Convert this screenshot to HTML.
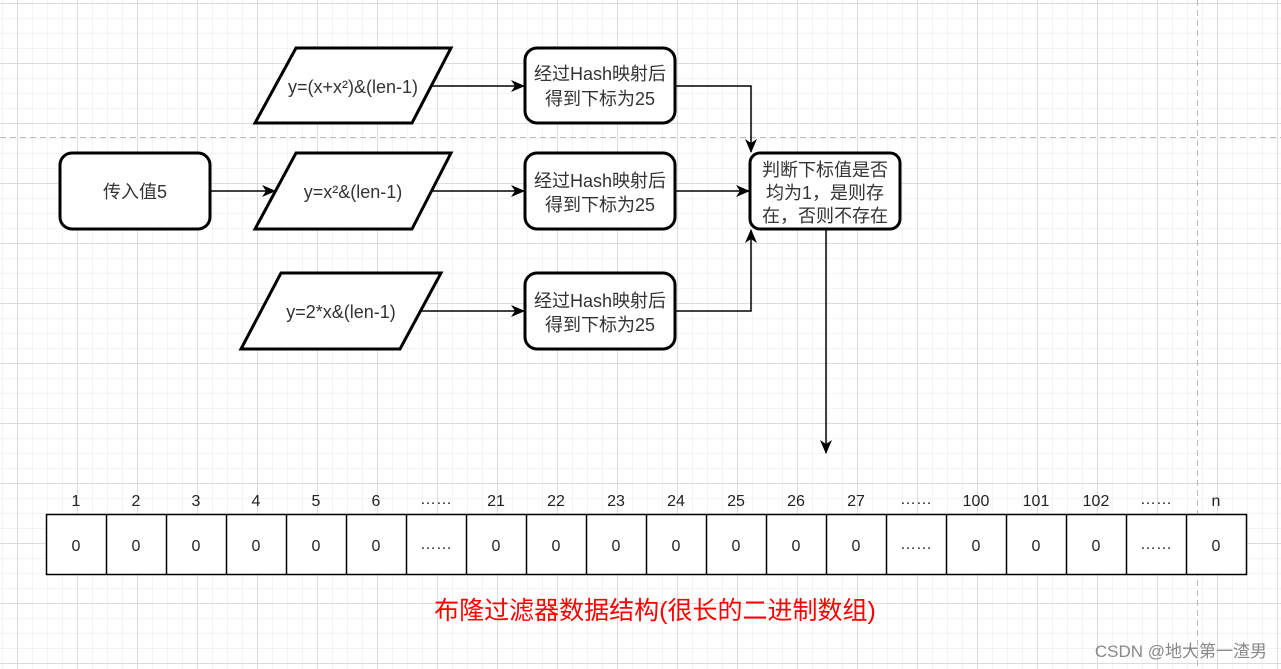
<!DOCTYPE html>
<html><head><meta charset="utf-8"><style>
html,body{margin:0;padding:0;background:#fff;}
svg{display:block;}
text{font-family:"Liberation Sans","Noto Sans CJK SC",sans-serif;}
</style></head><body>
<svg width="1281" height="669" viewBox="0 0 1281 669" xmlns="http://www.w3.org/2000/svg">
<defs>
<pattern id="minor" width="15" height="15" patternUnits="userSpaceOnUse" x="2" y="3">
<path d="M0 0.5H15M0.5 0V15" stroke="#f3f3f3" stroke-width="1" fill="none"/>
</pattern>
<pattern id="major" width="60" height="60" patternUnits="userSpaceOnUse" x="17" y="3">
<path d="M0 0.5H60M0.5 0V60" stroke="#dcdcdc" stroke-width="1" fill="none"/>
</pattern>
<marker id="ar" markerWidth="14" markerHeight="14" refX="13" refY="7" orient="auto" markerUnits="userSpaceOnUse">
<path d="M0,1 L14,7 L0,13 L4,7 Z" fill="#000"/>
</marker>
</defs>
<rect width="1281" height="669" fill="#fff"/>
<rect width="1281" height="669" fill="url(#minor)"/>
<rect width="1281" height="669" fill="url(#major)"/>
<line x1="0" y1="137.5" x2="1281" y2="137.5" stroke="#bbb" stroke-dasharray="6,4"/>
<line x1="1197.5" y1="0" x2="1197.5" y2="669" stroke="#bbb" stroke-dasharray="6,4"/>

<g stroke="#000" stroke-width="1.5" fill="none">
<line x1="430" y1="86" x2="524" y2="86" marker-end="url(#ar)"/>
<polyline points="675,86 751,86 751,152" marker-end="url(#ar)"/>
<line x1="210" y1="191" x2="275" y2="191" marker-end="url(#ar)"/>
<line x1="433" y1="191" x2="524" y2="191" marker-end="url(#ar)"/>
<line x1="675" y1="191" x2="749" y2="191" marker-end="url(#ar)"/>
<line x1="421" y1="311" x2="524" y2="311" marker-end="url(#ar)"/>
<polyline points="675,311 751,311 751,230" marker-end="url(#ar)"/>
<line x1="826" y1="229" x2="826" y2="453" marker-end="url(#ar)"/>
</g>

<g stroke="#000" stroke-width="3" fill="#fff">
<rect x="60" y="153" width="150" height="76" rx="12"/>
<polygon points="296,48 451,48 412,123 255,123"/>
<polygon points="296,153 451,153 412,229 255,229"/>
<polygon points="281,273 441,273 400,349 241,349"/>
<rect x="525" y="48" width="150" height="75" rx="12"/>
<rect x="525" y="153" width="150" height="76" rx="12"/>
<rect x="525" y="273" width="150" height="76" rx="12"/>
<rect x="750" y="153" width="150" height="76" rx="10"/>
</g>

<g font-size="18" fill="#333" text-anchor="middle">
<text x="135" y="198">传入值5</text>
<text x="353" y="93">y=(x+x²)&amp;(len-1)</text>
<text x="353" y="198">y=x²&amp;(len-1)</text>
<text x="341" y="318">y=2*x&amp;(len-1)</text>
<text x="600" y="80">经过Hash映射后</text>
<text x="600" y="105">得到下标为25</text>
<text x="600" y="187">经过Hash映射后</text>
<text x="600" y="211">得到下标为25</text>
<text x="600" y="307">经过Hash映射后</text>
<text x="600" y="331">得到下标为25</text>
<text x="825" y="176">判断下标值是否</text>
<text x="825" y="199">均为1，是则存</text>
<text x="825" y="222">在，否则不存在</text>
</g>

<g stroke="#000" stroke-width="1.5" fill="#fff">
<rect x="46.5" y="514.5" width="1200" height="60"/>
<path d="M106.5 514.5V574.5M166.5 514.5V574.5M226.5 514.5V574.5M286.5 514.5V574.5M346.5 514.5V574.5M406.5 514.5V574.5M466.5 514.5V574.5M526.5 514.5V574.5M586.5 514.5V574.5M646.5 514.5V574.5M706.5 514.5V574.5M766.5 514.5V574.5M826.5 514.5V574.5M886.5 514.5V574.5M946.5 514.5V574.5M1006.5 514.5V574.5M1066.5 514.5V574.5M1126.5 514.5V574.5M1186.5 514.5V574.5"/>
</g>
<g font-size="16" fill="#222" text-anchor="middle">
<text x="76" y="506">1</text><text x="136" y="506">2</text><text x="196" y="506">3</text><text x="256" y="506">4</text><text x="316" y="506">5</text><text x="376" y="506">6</text><text x="436" y="504">……</text><text x="496" y="506">21</text><text x="556" y="506">22</text><text x="616" y="506">23</text><text x="676" y="506">24</text><text x="736" y="506">25</text><text x="796" y="506">26</text><text x="856" y="506">27</text><text x="916" y="504">……</text><text x="976" y="506">100</text><text x="1036" y="506">101</text><text x="1096" y="506">102</text><text x="1156" y="504">……</text><text x="1216" y="506">n</text>
<text x="76" y="551">0</text><text x="136" y="551">0</text><text x="196" y="551">0</text><text x="256" y="551">0</text><text x="316" y="551">0</text><text x="376" y="551">0</text><text x="436" y="549">……</text><text x="496" y="551">0</text><text x="556" y="551">0</text><text x="616" y="551">0</text><text x="676" y="551">0</text><text x="736" y="551">0</text><text x="796" y="551">0</text><text x="856" y="551">0</text><text x="916" y="549">……</text><text x="976" y="551">0</text><text x="1036" y="551">0</text><text x="1096" y="551">0</text><text x="1156" y="549">……</text><text x="1216" y="551">0</text>
</g>
<text x="655" y="619" font-size="25" fill="#ff0000" text-anchor="middle">布隆过滤器数据结构(很长的二进制数组)</text>
<text x="1267" y="657" font-size="17" fill="#888" text-anchor="end">CSDN @地大第一渣男</text>
</svg>
</body></html>
